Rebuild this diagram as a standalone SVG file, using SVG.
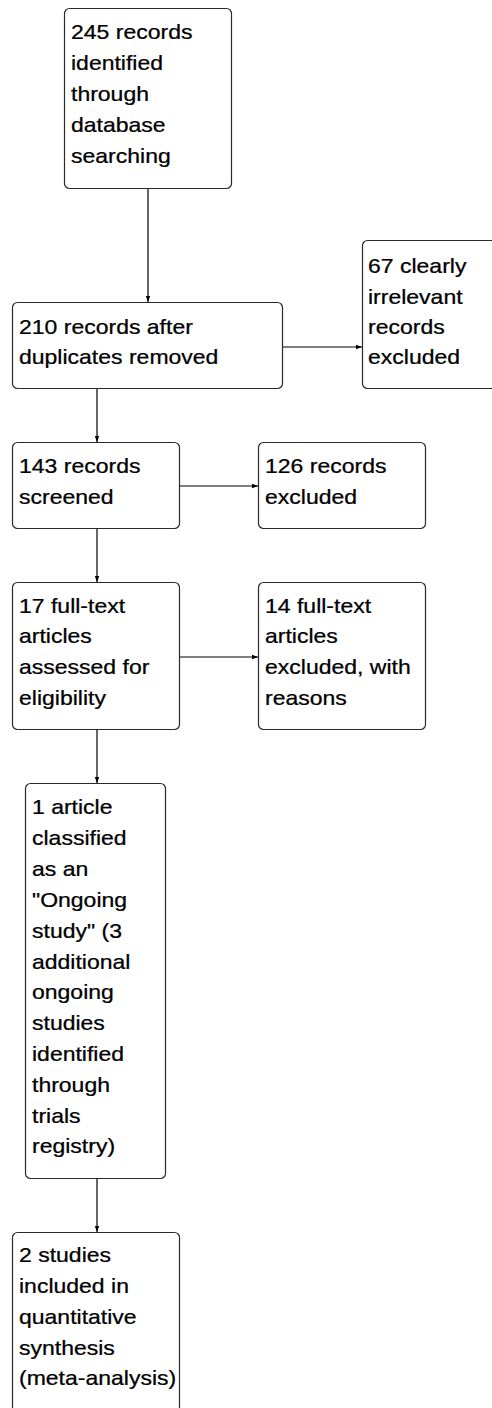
<svg xmlns="http://www.w3.org/2000/svg" width="492" height="1408" viewBox="0 0 492 1408">
  <style>
    .box { fill: #ffffff; stroke: #2a2a2a; stroke-width: 1.2; }
    .lbl { font-family: "Liberation Sans", Arial, sans-serif; font-size: 20px; fill: #000000; stroke: #000000; stroke-width: 0.25; }
    .edge { fill: none; stroke: #000000; stroke-width: 1.2; marker-end: url(#arrow); }
  </style>
  <defs>
    <marker id="arrow" viewBox="0 0 6 6" refX="6" refY="3" markerWidth="6" markerHeight="6" markerUnits="userSpaceOnUse" orient="auto">
      <path d="M0,0.8 L6,3 L0,5.2 Z" fill="#000000"/>
    </marker>
  </defs>
  <rect width="492" height="1408" fill="#ffffff"/>

  <g id="connectors">
    <line class="edge" x1="148" y1="188" x2="148" y2="302"/>
    <line class="edge" x1="283" y1="347" x2="362" y2="347"/>
    <line class="edge" x1="97" y1="388" x2="97" y2="442"/>
    <line class="edge" x1="180" y1="486" x2="258" y2="486"/>
    <line class="edge" x1="97" y1="529" x2="97" y2="582"/>
    <line class="edge" x1="180" y1="657" x2="258" y2="657"/>
    <line class="edge" x1="97" y1="730" x2="97" y2="783"/>
    <line class="edge" x1="97" y1="1178" x2="97" y2="1232"/>
  </g>

  <!-- labels are set in a horizontally widened sans face -->
  <g id="identified">
    <rect class="box" x="64.5" y="8.5" width="167" height="180" rx="5"/>
    <g transform="translate(71 0) scale(1.15 1)">
      <text class="lbl" x="0" y="39">245 records</text>
      <text class="lbl" x="0" y="70">identified</text>
      <text class="lbl" x="0" y="101">through</text>
      <text class="lbl" x="0" y="132">database</text>
      <text class="lbl" x="0" y="163">searching</text>
    </g>
  </g>

  <g id="deduplicated">
    <rect class="box" x="12.5" y="302.5" width="270" height="86" rx="5"/>
    <g transform="translate(19 0) scale(1.15 1)">
      <text class="lbl" x="0" y="334">210 records after</text>
      <text class="lbl" x="0" y="364">duplicates removed</text>
    </g>
  </g>

  <g id="irrelevant">
    <rect class="box" x="362.5" y="240.5" width="150" height="148" rx="5"/>
    <g transform="translate(368 0) scale(1.15 1)">
      <text class="lbl" x="0" y="273">67 clearly</text>
      <text class="lbl" x="0" y="304">irrelevant</text>
      <text class="lbl" x="0" y="334">records</text>
      <text class="lbl" x="0" y="364">excluded</text>
    </g>
  </g>

  <g id="screened">
    <rect class="box" x="12.5" y="442.5" width="167" height="86" rx="5"/>
    <g transform="translate(19 0) scale(1.15 1)">
      <text class="lbl" x="0" y="473">143 records</text>
      <text class="lbl" x="0" y="504">screened</text>
    </g>
  </g>

  <g id="records-excluded">
    <rect class="box" x="258.5" y="442.5" width="167" height="86" rx="5"/>
    <g transform="translate(265 0) scale(1.15 1)">
      <text class="lbl" x="0" y="473">126 records</text>
      <text class="lbl" x="0" y="504">excluded</text>
    </g>
  </g>

  <g id="assessed">
    <rect class="box" x="12.5" y="582.5" width="167" height="147" rx="5"/>
    <g transform="translate(19 0) scale(1.15 1)">
      <text class="lbl" x="0" y="613">17 full-text</text>
      <text class="lbl" x="0" y="643">articles</text>
      <text class="lbl" x="0" y="674">assessed for</text>
      <text class="lbl" x="0" y="705">eligibility</text>
    </g>
  </g>

  <g id="fulltext-excluded">
    <rect class="box" x="258.5" y="582.5" width="167" height="147" rx="5"/>
    <g transform="translate(265 0) scale(1.15 1)">
      <text class="lbl" x="0" y="613">14 full-text</text>
      <text class="lbl" x="0" y="643">articles</text>
      <text class="lbl" x="0" y="674">excluded, with</text>
      <text class="lbl" x="0" y="705">reasons</text>
    </g>
  </g>

  <g id="ongoing">
    <rect class="box" x="25.5" y="783.5" width="140" height="395" rx="5"/>
    <g transform="translate(32 0) scale(1.15 1)">
      <text class="lbl" x="0" y="814">1 article</text>
      <text class="lbl" x="0" y="845">classified</text>
      <text class="lbl" x="0" y="876">as an</text>
      <text class="lbl" x="0" y="907">"Ongoing</text>
      <text class="lbl" x="0" y="938">study" (3</text>
      <text class="lbl" x="0" y="969">additional</text>
      <text class="lbl" x="0" y="999">ongoing</text>
      <text class="lbl" x="0" y="1030">studies</text>
      <text class="lbl" x="0" y="1061">identified</text>
      <text class="lbl" x="0" y="1092">through</text>
      <text class="lbl" x="0" y="1123">trials</text>
      <text class="lbl" x="0" y="1153">registry)</text>
    </g>
  </g>

  <g id="included">
    <rect class="box" x="12.5" y="1232.5" width="167" height="200" rx="5"/>
    <g transform="translate(19 0) scale(1.15 1)">
      <text class="lbl" x="0" y="1262">2 studies</text>
      <text class="lbl" x="0" y="1293">included in</text>
      <text class="lbl" x="0" y="1324">quantitative</text>
      <text class="lbl" x="0" y="1355">synthesis</text>
      <text class="lbl" x="0" y="1385">(meta-analysis)</text>
    </g>
  </g>
</svg>
